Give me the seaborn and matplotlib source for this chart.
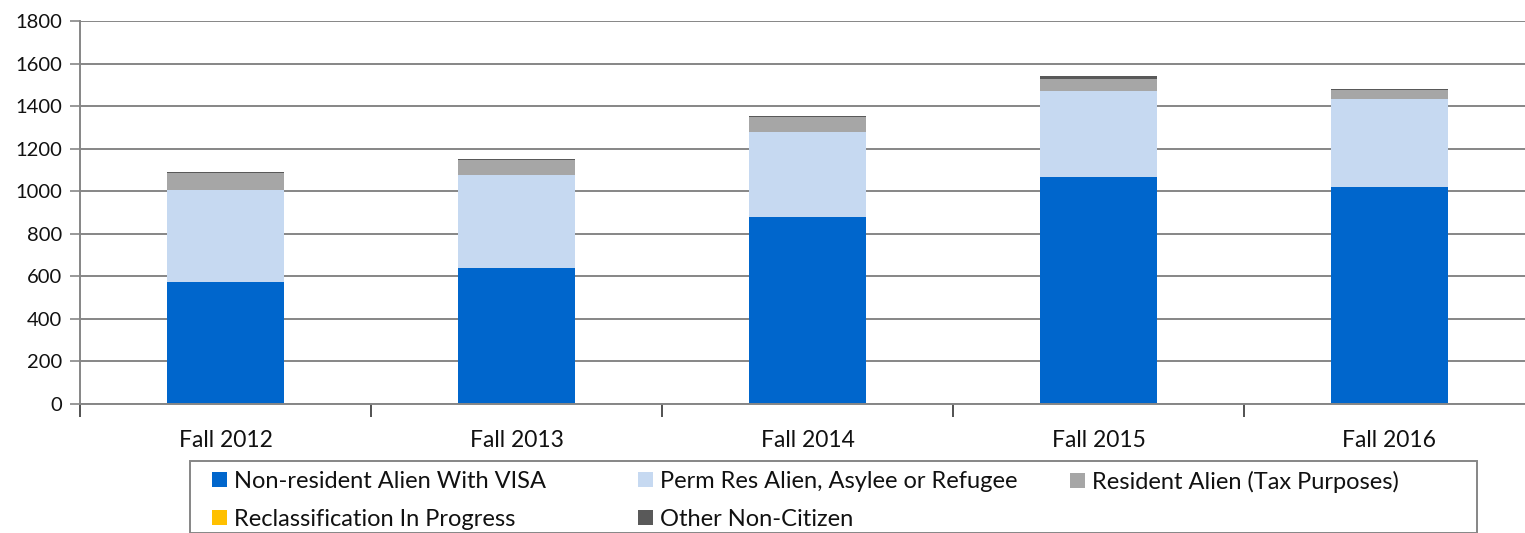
import numpy as np
import pandas as pd
import matplotlib
matplotlib.use("Agg")
import matplotlib.pyplot as plt
import seaborn as sns
from matplotlib.patches import Patch, Rectangle

categories = ["Fall 2012", "Fall 2013", "Fall 2014", "Fall 2015", "Fall 2016"]
series_names = ["Non-resident Alien With VISA", "Perm Res Alien, Asylee or Refugee",
                "Resident Alien (Tax Purposes)", "Reclassification In Progress",
                "Other Non-Citizen"]
visa = [575, 640, 880, 1065, 1018]
perm = [430, 435, 400, 407, 417]
resident = [82, 72, 70, 54, 40]
reclass = [0, 0, 1, 0, 1]
other = [2, 5, 3, 16, 4]
yticks = [0, 200, 400, 600, 800, 1000, 1200, 1400, 1600, 1800]

colors = ["#0066CC", "#C6D9F1", "#A6A6A6", "#FFC000", "#595959"]

sns.set_theme(style="white")
plt.rcParams["font.family"] = ["Lato", "DejaVu Sans"]

df = pd.DataFrame({"cat": categories, "s0": visa, "s1": perm, "s2": resident,
                   "s3": reclass, "s4": other})
vals = df[["s0", "s1", "s2", "s3", "s4"]].to_numpy()
cum = np.cumsum(vals, axis=1)
for i in range(5):
    df[f"c{i}"] = cum[:, i]

W, H = 1525, 533
fig = plt.figure(figsize=(W / 100, H / 100), dpi=100)
ax = fig.add_axes([80 / W, 1 - 404 / H, 1455 / W, 383 / H])

for i in reversed(range(5)):
    sns.barplot(data=df, x="cat", y=f"c{i}", color=colors[i], width=0.4,
                saturation=1, ax=ax, edgecolor="none", linewidth=0, zorder=2)

gc = "#868686"
ax.set_ylim(0, 1800)
ax.set_yticks(yticks)
ax.yaxis.grid(True, color=gc, lw=1.4)
ax.set_axisbelow(True)
for s in ["top", "right"]:
    ax.spines[s].set_visible(False)
for s in ["left", "bottom"]:
    ax.spines[s].set_color(gc)
    ax.spines[s].set_linewidth(1.4)

ax.set_xlim(-0.5, 4.5)
ax.set_xticks(np.arange(-0.5, 5, 1.0))
ax.set_xticklabels([])
ax.set_xticks(range(5), minor=True)
ax.set_xticklabels(categories, minor=True)
ax.tick_params(axis="x", which="major", bottom=True, length=9, width=1.2, color="#333333")
ax.tick_params(axis="x", which="minor", bottom=True, length=0, pad=19,
               labelsize=16.5, labelcolor="#111111")
ax.tick_params(axis="y", left=True, length=7, width=1.2, color=gc, pad=6,
               labelsize=14.5, labelcolor="#111111")
ax.set_xlabel("")
ax.set_ylabel("")

handles = [Patch(facecolor=c, edgecolor="none") for c in colors]
columns = [[0, 3], [1, 4], [2]]
col_x = [212, 638, 1070]
for idxs, x0 in zip(columns, col_x):
    leg = fig.legend([handles[i] for i in idxs], [series_names[i] for i in idxs],
                     ncol=1, loc="upper left", bbox_to_anchor=(x0 / W, 1 - 471 / H),
                     frameon=False, fontsize=17, handlelength=0.62, handleheight=0.62,
                     handletextpad=0.3, labelspacing=0.72,
                     borderpad=0.0, borderaxespad=0)
    for t in leg.get_texts():
        t.set_color("#111111")

fig.patches.append(Rectangle((190 / W, 0), 1287 / W, 1 - 461 / H, transform=fig.transFigure,
                             fill=False, edgecolor=gc, lw=1.4))

fig.savefig("out.png", dpi=100)
